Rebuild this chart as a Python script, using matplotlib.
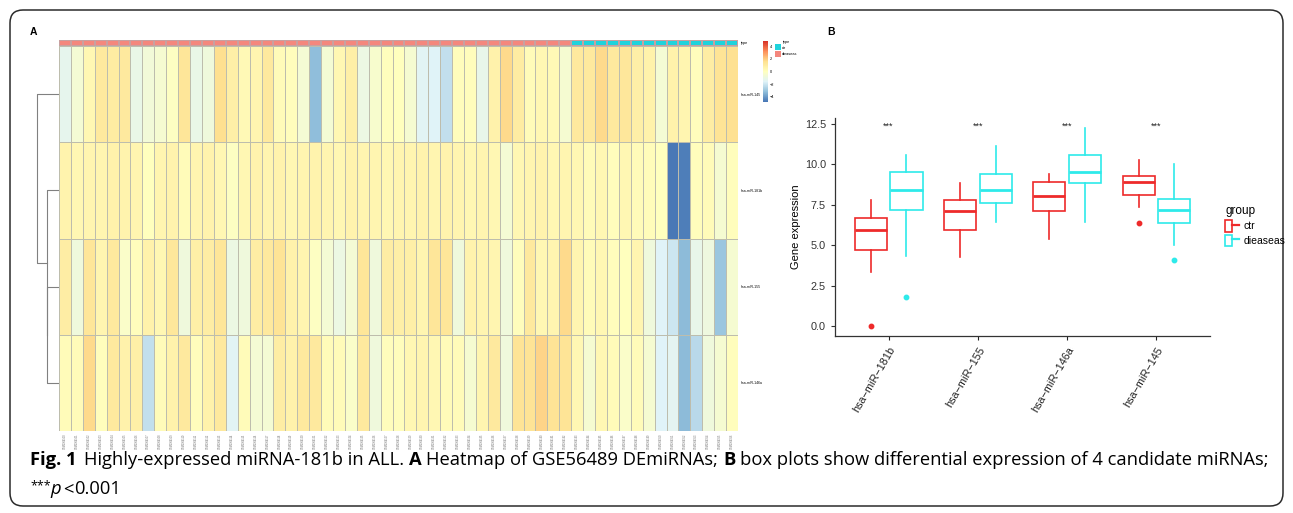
import numpy as np
import matplotlib
matplotlib.use("Agg")
import matplotlib.pyplot as plt
from matplotlib.colors import LinearSegmentedColormap, ListedColormap
from matplotlib.patches import FancyBboxPatch, Patch
from matplotlib.lines import Line2D
from matplotlib.legend_handler import HandlerTuple

W, H = 1293, 513

# ---- panel A: heatmap data (43 disease samples, then 14 control samples) ----
row_names = ['hsa-miR-145', 'hsa-miR-181b', 'hsa-miR-155', 'hsa-miR-146a']
n_dis, n_ctr = 43, 14
row_145 = [-1.3, -0.6, 0.4, 1.1, 1.0, 1.1, -1.1, -0.7, -0.5, -0.1,
           1.3, -1.1, -0.8, 1.6, 0.8, 0.3, 0.5, 1.1, 0.2, 0.1,
           -0.6, -3.2, -0.6, 0.4, 0.8, -1.0, -0.4, 0.05, 0.0, -0.5,
           -1.5, -1.6, -2.2, 0.1, 0.1, -1.2, 0.7, 1.7, 1.0, 0.2,
           0.4, 0.3, -0.5, 1.1, 1.1, 1.7, 1.1, 1.2, 0.8, 0.7,
           -0.6, 0.7, 0.5, 0.1, 0.9, 1.4, 1.5]
row_181b = [0.6, 0.4, 0.5, 0.5, 0.7, 0.6, 0.5, 0.0, 0.5, 0.6,
            0.2, 0.5, 0.6, 0.4, -0.1, 0.4, 0.6, 0.5, 0.6, 0.4,
            0.5, 0.6, 0.5, 0.4, 0.6, 0.5, 0.5, 0.4, 0.5, 0.5,
            0.6, 0.5, 0.6, 0.5, 0.4, 0.5, 0.4, -0.6, 0.4, 0.5,
            0.6, 0.4, 0.5, 0.4, 0.2, 0.4, 0.1, 0.4, 0.2, 0.15,
            0.0, -4.7, -4.6, 0.1, 0.2, -0.5, 0.1]
row_155 = [0.9, -0.8, 1.3, 0.5, 1.1, -0.3, 0.1, 0.7, 0.4, 1.2,
           -0.8, 0.8, 0.9, 1.3, -1.0, -0.8, 0.9, 1.1, 1.4, 0.7,
           0.5, -0.1, -0.6, -1.0, -0.6, 1.3, -0.8, 0.9, 0.8, 0.8,
           0.5, 1.3, 1.3, -0.8, 0.6, 0.5, 0.5, -0.8, 0.1, 1.1,
           0.4, 0.5, 1.7, 0.5, 0.2, 0.4, 0.1, 0.0, 0.5, -0.8,
           -1.6, -2.0, -3.3, -1.2, -0.9, -3.0, -0.5]
row_146a = [0.2, 0.2, 1.7, 0.1, 1.1, 0.7, 0.8, -2.2, 0.2, 0.7,
            1.1, 0.1, 0.7, 1.1, -1.5, 0.2, -0.6, -0.6, 0.9, 0.7,
            1.1, 1.1, 0.2, 0.2, -0.3, 1.1, -0.8, 0.1, 0.1, 0.4,
            0.5, 0.4, 0.2, 0.2, -0.5, 0.5, 1.1, -0.8, 1.4, 1.4,
            1.8, 1.4, 1.4, 0.4, -0.5, 0.4, 0.2, -0.3, 0.2, -0.5,
            -1.6, -1.4, -3.3, -2.4, -0.8, -0.5, 0.1]
sample_ids = [f'GSM13{64100 + i}' for i in range(n_dis + n_ctr)]
# row dendrogram: (row a, row b, height) merges, heights in arbitrary units
dend_merges = [(2, 3, 1.17), (1, 'n0', 1.23), (0, 'n1', 2.2)]

# ---- panel B: box plot summary stats ----
mirnas = ['hsa−miR−181b', 'hsa−miR−155', 'hsa−miR−146a', 'hsa−miR−145']
ctr_lo = [3.35, 4.29, 5.38, 7.37]
ctr_q1 = [4.70, 5.93, 7.14, 8.13]
ctr_med = [5.97, 7.12, 8.04, 8.91]
ctr_q3 = [6.71, 7.76, 8.88, 9.30]
ctr_hi = [7.78, 8.84, 9.42, 10.28]
ctr_out = [[0.0], [], [], [6.38]]
dis_lo = [4.33, 6.44, 6.44, 5.01]
dis_q1 = [7.16, 7.61, 8.87, 6.38]
dis_med = [8.43, 8.39, 9.52, 7.16]
dis_q3 = [9.52, 9.42, 10.59, 7.86]
dis_hi = [10.55, 11.12, 12.25, 10.04]
dis_out = [[1.79], [], [], [4.08]]


def px(x0, y0, x1, y1):
    return [x0 / W, 1 - y1 / H, (x1 - x0) / W, (y1 - y0) / H]


fig = plt.figure(figsize=(W / 100, H / 100), dpi=100)
plt.rcParams['font.family'] = ['Liberation Sans', 'DejaVu Sans']

# outer frame
fig.patches.append(FancyBboxPatch((0.10, 0.07), 12.73, 4.96,
                                  boxstyle='round,pad=0,rounding_size=0.13',
                                  transform=fig.dpi_scale_trans, fill=False,
                                  ec='#2b2b2b', lw=1.1))

# heatmap
mat = np.array([row_145, row_181b, row_155, row_146a])
cmap = LinearSegmentedColormap.from_list(
    'pheat', ['#4575B4', '#91BFDB', '#E0F3F8', '#FFFFBF', '#FEE090', '#FC8D59', '#D73027'])
ax = fig.add_axes(px(59, 46, 738, 431))
mesh = ax.pcolormesh(mat, cmap=cmap, vmin=-4.8, vmax=4.8,
                     edgecolors='#bdbdad', linewidth=0.5)
ax.set_xlim(0, mat.shape[1])
ax.set_ylim(mat.shape[0], 0)
for s in ax.spines.values():
    s.set_visible(False)
ax.yaxis.tick_right()
ax.set_yticks(np.arange(4) + 0.5, row_names, fontsize=2.5)
ax.set_xticks(np.arange(mat.shape[1]) + 0.5, sample_ids, rotation=90,
              fontsize=1.8, color='#666666')
ax.tick_params(length=0, pad=2)

# annotation bar
ann = fig.add_axes(px(59, 40, 738, 46))
types = np.array([[1] * n_dis + [0] * n_ctr])
ann.pcolormesh(types, cmap=ListedColormap(['#1FD3DC', '#F4877D']), vmin=0, vmax=1,
               edgecolors='#c8a0a0', linewidth=0.3)
ann.set_xlim(0, types.shape[1])
ann.axis('off')
ann.text(1.004, 0.5, 'type', transform=ann.transAxes, fontsize=2.8, va='center')

# dendrogram
dax = fig.add_axes(px(35, 46, 59, 431))
pos = {i: i + 0.5 for i in range(4)}
hts = {i: 0.0 for i in range(4)}
for k, (a, b, h) in enumerate(dend_merges):
    ya, yb = pos[a], pos[b]
    dax.plot([hts[a], h, h, hts[b]], [ya, ya, yb, yb], color='#808080', lw=0.8)
    pos[f'n{k}'] = (ya + yb) / 2
    hts[f'n{k}'] = h
dax.set_xlim(2.4, 0)
dax.set_ylim(4, 0)
dax.axis('off')

# colour key
cax = fig.add_axes(px(763, 41, 768, 102))
cb = fig.colorbar(mesh, cax=cax, ticks=[-4, -2, 0, 2, 4])
cb.outline.set_visible(False)
cax.tick_params(labelsize=2.8, length=0, pad=1.5)

fig.legend([Patch(fc='#1FD3DC'), Patch(fc='#F4877D')], ['ctr', 'dieaseas'],
           title='type', loc='upper left', bbox_to_anchor=(773 / W, 1 - 38 / H),
           frameon=False, fontsize=2.8, title_fontsize=2.8, handlelength=1.6,
           handleheight=2.0, handletextpad=0.4, labelspacing=0.2, borderaxespad=0)

fig.text(30 / W, 1 - 32 / H, 'A', fontsize=7.5, fontweight='bold', va='center')
fig.text(827 / W, 1 - 32 / H, 'B', fontsize=7.5, fontweight='bold', va='center')

# box plots
red, cyan = '#EE2A2A', '#2EEAEA'
bx = fig.add_axes(px(835, 118, 1210, 336))


def stats(lo, q1, med, q3, hi, out):
    return [dict(whislo=a, q1=b, med=c, q3=d, whishi=e, fliers=f)
            for a, b, c, d, e, f in zip(lo, q1, med, q3, hi, out)]


xs = np.arange(1, 5)
for st, off, col in [(stats(ctr_lo, ctr_q1, ctr_med, ctr_q3, ctr_hi, ctr_out), -0.2, red),
                     (stats(dis_lo, dis_q1, dis_med, dis_q3, dis_hi, dis_out), 0.2, cyan)]:
    bx.bxp(st, positions=xs + off, widths=0.36, showcaps=False, patch_artist=True,
           boxprops=dict(facecolor='white', edgecolor=col, lw=1.2),
           whiskerprops=dict(color=col, lw=1.2),
           medianprops=dict(color=col, lw=2.0),
           flierprops=dict(marker='o', markerfacecolor=col, markeredgecolor=col,
                           markersize=3.2))
for x in xs:
    bx.text(x, 12.35, '***', ha='center', va='center', fontsize=6.5, color='#222222')
bx.set_xlim(0.4, 4.6)
bx.set_ylim(-0.6, 12.85)
bx.set_yticks([0, 2.5, 5, 7.5, 10, 12.5], ['0.0', '2.5', '5.0', '7.5', '10.0', '12.5'])
bx.set_xticks(xs, mirnas, rotation=60, ha='right', rotation_mode='anchor')
bx.tick_params(labelsize=7.8, colors='#222222', length=3, width=0.8)
bx.tick_params(axis='y', colors='#333333')
for s in ['top', 'right']:
    bx.spines[s].set_visible(False)
for s in ['left', 'bottom']:
    bx.spines[s].set_linewidth(0.9)
    bx.spines[s].set_color('#333333')
bx.set_ylabel('Gene expression', fontsize=8, labelpad=3)

h_ctr = (Patch(fc='white', ec=red, lw=1.2), Line2D([], [], color=red, lw=1.6))
h_dis = (Patch(fc='white', ec=cyan, lw=1.2), Line2D([], [], color=cyan, lw=1.6))
fig.legend([h_ctr, h_dis], ['ctr', 'dieaseas'], title='group',
           handler_map={tuple: HandlerTuple(ndivide=None, pad=0)},
           loc='upper left', bbox_to_anchor=(1221 / W, 1 - 201 / H), frameon=False,
           fontsize=7.5, title_fontsize=8.5, handlelength=1.3, handleheight=1.3,
           handletextpad=0.5, labelspacing=0.3, borderaxespad=0,
           alignment='left')

# caption
renderer = fig.canvas.get_renderer()


def put_runs(runs, x, y, size):
    sp = None
    for text, kw, gap in runs:
        fs = kw.pop('fs', size)
        dy = kw.pop('dy', 0)
        t = fig.text(x / W, 1 - (y - dy) / H, text, fontsize=fs, va='baseline',
                     ha='left', family=['Open Sans', 'DejaVu Sans'], **kw)
        if sp is None:
            probe = fig.text(0, 0, 'a a', fontsize=size, family=['Open Sans'])
            probe2 = fig.text(0, 0, 'aa', fontsize=size, family=['Open Sans'])
            sp = probe.get_window_extent(renderer).width - probe2.get_window_extent(renderer).width
            probe.remove()
            probe2.remove()
        x += t.get_window_extent(renderer).width + gap * sp


cap_size = 13.2
put_runs([('Fig. 1', dict(fontweight='bold'), 1.6),
          ('Highly-expressed miRNA-181b in ALL.', {}, 1),
          ('A', dict(fontweight='bold'), 1),
          ('Heatmap of GSE56489 DEmiRNAs;', {}, 1),
          ('B', dict(fontweight='bold'), 1),
          ('box plots show differential expression of 4 candidate miRNAs;', {}, 0)],
         30, 465, cap_size)
put_runs([('***', dict(fs=9, dy=5), 0),
          ('p', dict(style='italic'), 0.3),
          ('<', {}, 0.3),
          ('0.001', {}, 0)],
         30, 494, cap_size)

fig.savefig('out.png', dpi=100)
